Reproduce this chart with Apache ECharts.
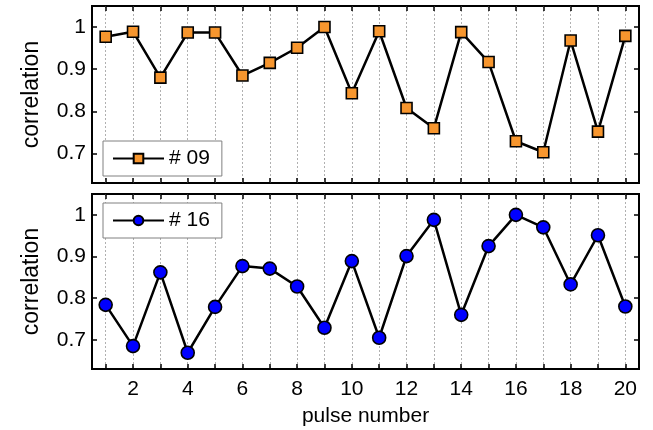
<!DOCTYPE html>
<html>
<head>
<meta charset="utf-8">
<script src="https://cdn.jsdelivr.net/npm/echarts@6/dist/echarts.min.js"></script>
<style>
html,body{margin:0;padding:0;background:#fff;}
#chart{width:653px;height:430px;}
</style>
</head>
<body>
<div id="chart"></div>
<script>
const pulses = ['1','2','3','4','5','6','7','8','9','10','11','12','13','14','15','16','17','18','19','20'];
const series09 = [0.977,0.989,0.880,0.987,0.987,0.885,0.915,0.951,1.000,0.843,0.990,0.808,0.760,0.988,0.917,0.729,0.703,0.968,0.752,0.979];
const series16 = [0.784,0.685,0.862,0.669,0.779,0.877,0.871,0.828,0.729,0.889,0.705,0.901,0.988,0.760,0.925,1.000,0.970,0.833,0.951,0.780];
const yMin = 0.63, yMax = 1.05;
const FONT = 'Liberation Sans, Arial, sans-serif';

const chart = echarts.init(document.getElementById('chart'), null, {renderer:'canvas'});

function xAxes(gridIndex, showLabels){
  const base = {
    type:'category', data:pulses, gridIndex:gridIndex, boundaryGap:true,
    axisLine:{show:false},
    axisTick:{show:true, inside:true, length:5, interval:0, alignWithLabel:true, lineStyle:{color:'#000', width:1.5}},
  };
  return [
    Object.assign({}, base, {
      position:'bottom',
      axisLabel:{show:showLabels, interval:function(i){return i%2===1;}, color:'#000', fontSize:21, fontFamily:FONT, margin:10},
      splitLine:{show:true, interval:0, alignWithLabel:true, lineStyle:{color:'#b0b0b0', type:[2,2], width:1}},
      name: showLabels ? 'pulse number' : '',
      nameLocation:'middle', nameGap:37,
      nameTextStyle:{color:'#000', fontSize:21, fontFamily:FONT}
    }),
    Object.assign({}, base, {position:'top', axisLabel:{show:false}, splitLine:{show:false}})
  ];
}
function yAxes(gridIndex){
  const base = {type:'value', gridIndex:gridIndex, min:yMin, max:yMax, minInterval:0.1, maxInterval:0.1,
    axisLine:{show:false}, splitLine:{show:false},
    axisTick:{show:true, inside:true, length:5, lineStyle:{color:'#000', width:1.5}}};
  return [
    Object.assign({}, base, {position:'left',
      axisLabel:{show:true, showMinLabel:false, showMaxLabel:false, color:'#000', fontSize:21, fontFamily:FONT, margin:6,
        formatter:function(v){return String(Math.round(v*10)/10);}},
      name:'correlation', nameLocation:'middle', nameRotate:90, nameGap:49,
      nameTextStyle:{color:'#000', fontSize:23, fontFamily:FONT}}),
    Object.assign({}, base, {position:'right', axisLabel:{show:false}})
  ];
}

const legendBase = {orient:'horizontal', padding:[7,12,7,9], itemWidth:51, itemHeight:12,
  backgroundColor:'#fff', borderColor:'#808080', borderWidth:1, borderRadius:0,
  textStyle:{color:'#000', fontSize:21, fontFamily:FONT}, selectedMode:false};

const option = {
  animation:false,
  backgroundColor:'#fff',
  grid:[
    {left:92, top:6, width:547, height:177, show:true, borderColor:'#000', borderWidth:2, backgroundColor:'transparent', containLabel:false},
    {left:92, top:194, width:547, height:175, show:true, borderColor:'#000', borderWidth:2, backgroundColor:'transparent', containLabel:false}
  ],
  xAxis: xAxes(0,false).concat(xAxes(1,true)),
  yAxis: yAxes(0).concat(yAxes(1)),
  legend:[
    Object.assign({data:['# 09'], left:103, top:141}, legendBase),
    Object.assign({data:['# 16'], left:103, top:203}, legendBase)
  ],
  series:[
    {name:'# 09', type:'line', xAxisIndex:0, yAxisIndex:0, data:series09,
      symbol:'rect', symbolSize:11, showAllSymbol:true,
      lineStyle:{color:'#000', width:2.5},
      itemStyle:{color:'#f7962e', borderColor:'#000', borderWidth:1.6}},
    {name:'# 16', type:'line', xAxisIndex:2, yAxisIndex:2, data:series16,
      symbol:'circle', symbolSize:13, showAllSymbol:true,
      lineStyle:{color:'#000', width:2.5},
      itemStyle:{color:'#0000ff', borderColor:'#000', borderWidth:1.6}}
  ]
};
chart.setOption(option);
</script>
</body>
</html>
